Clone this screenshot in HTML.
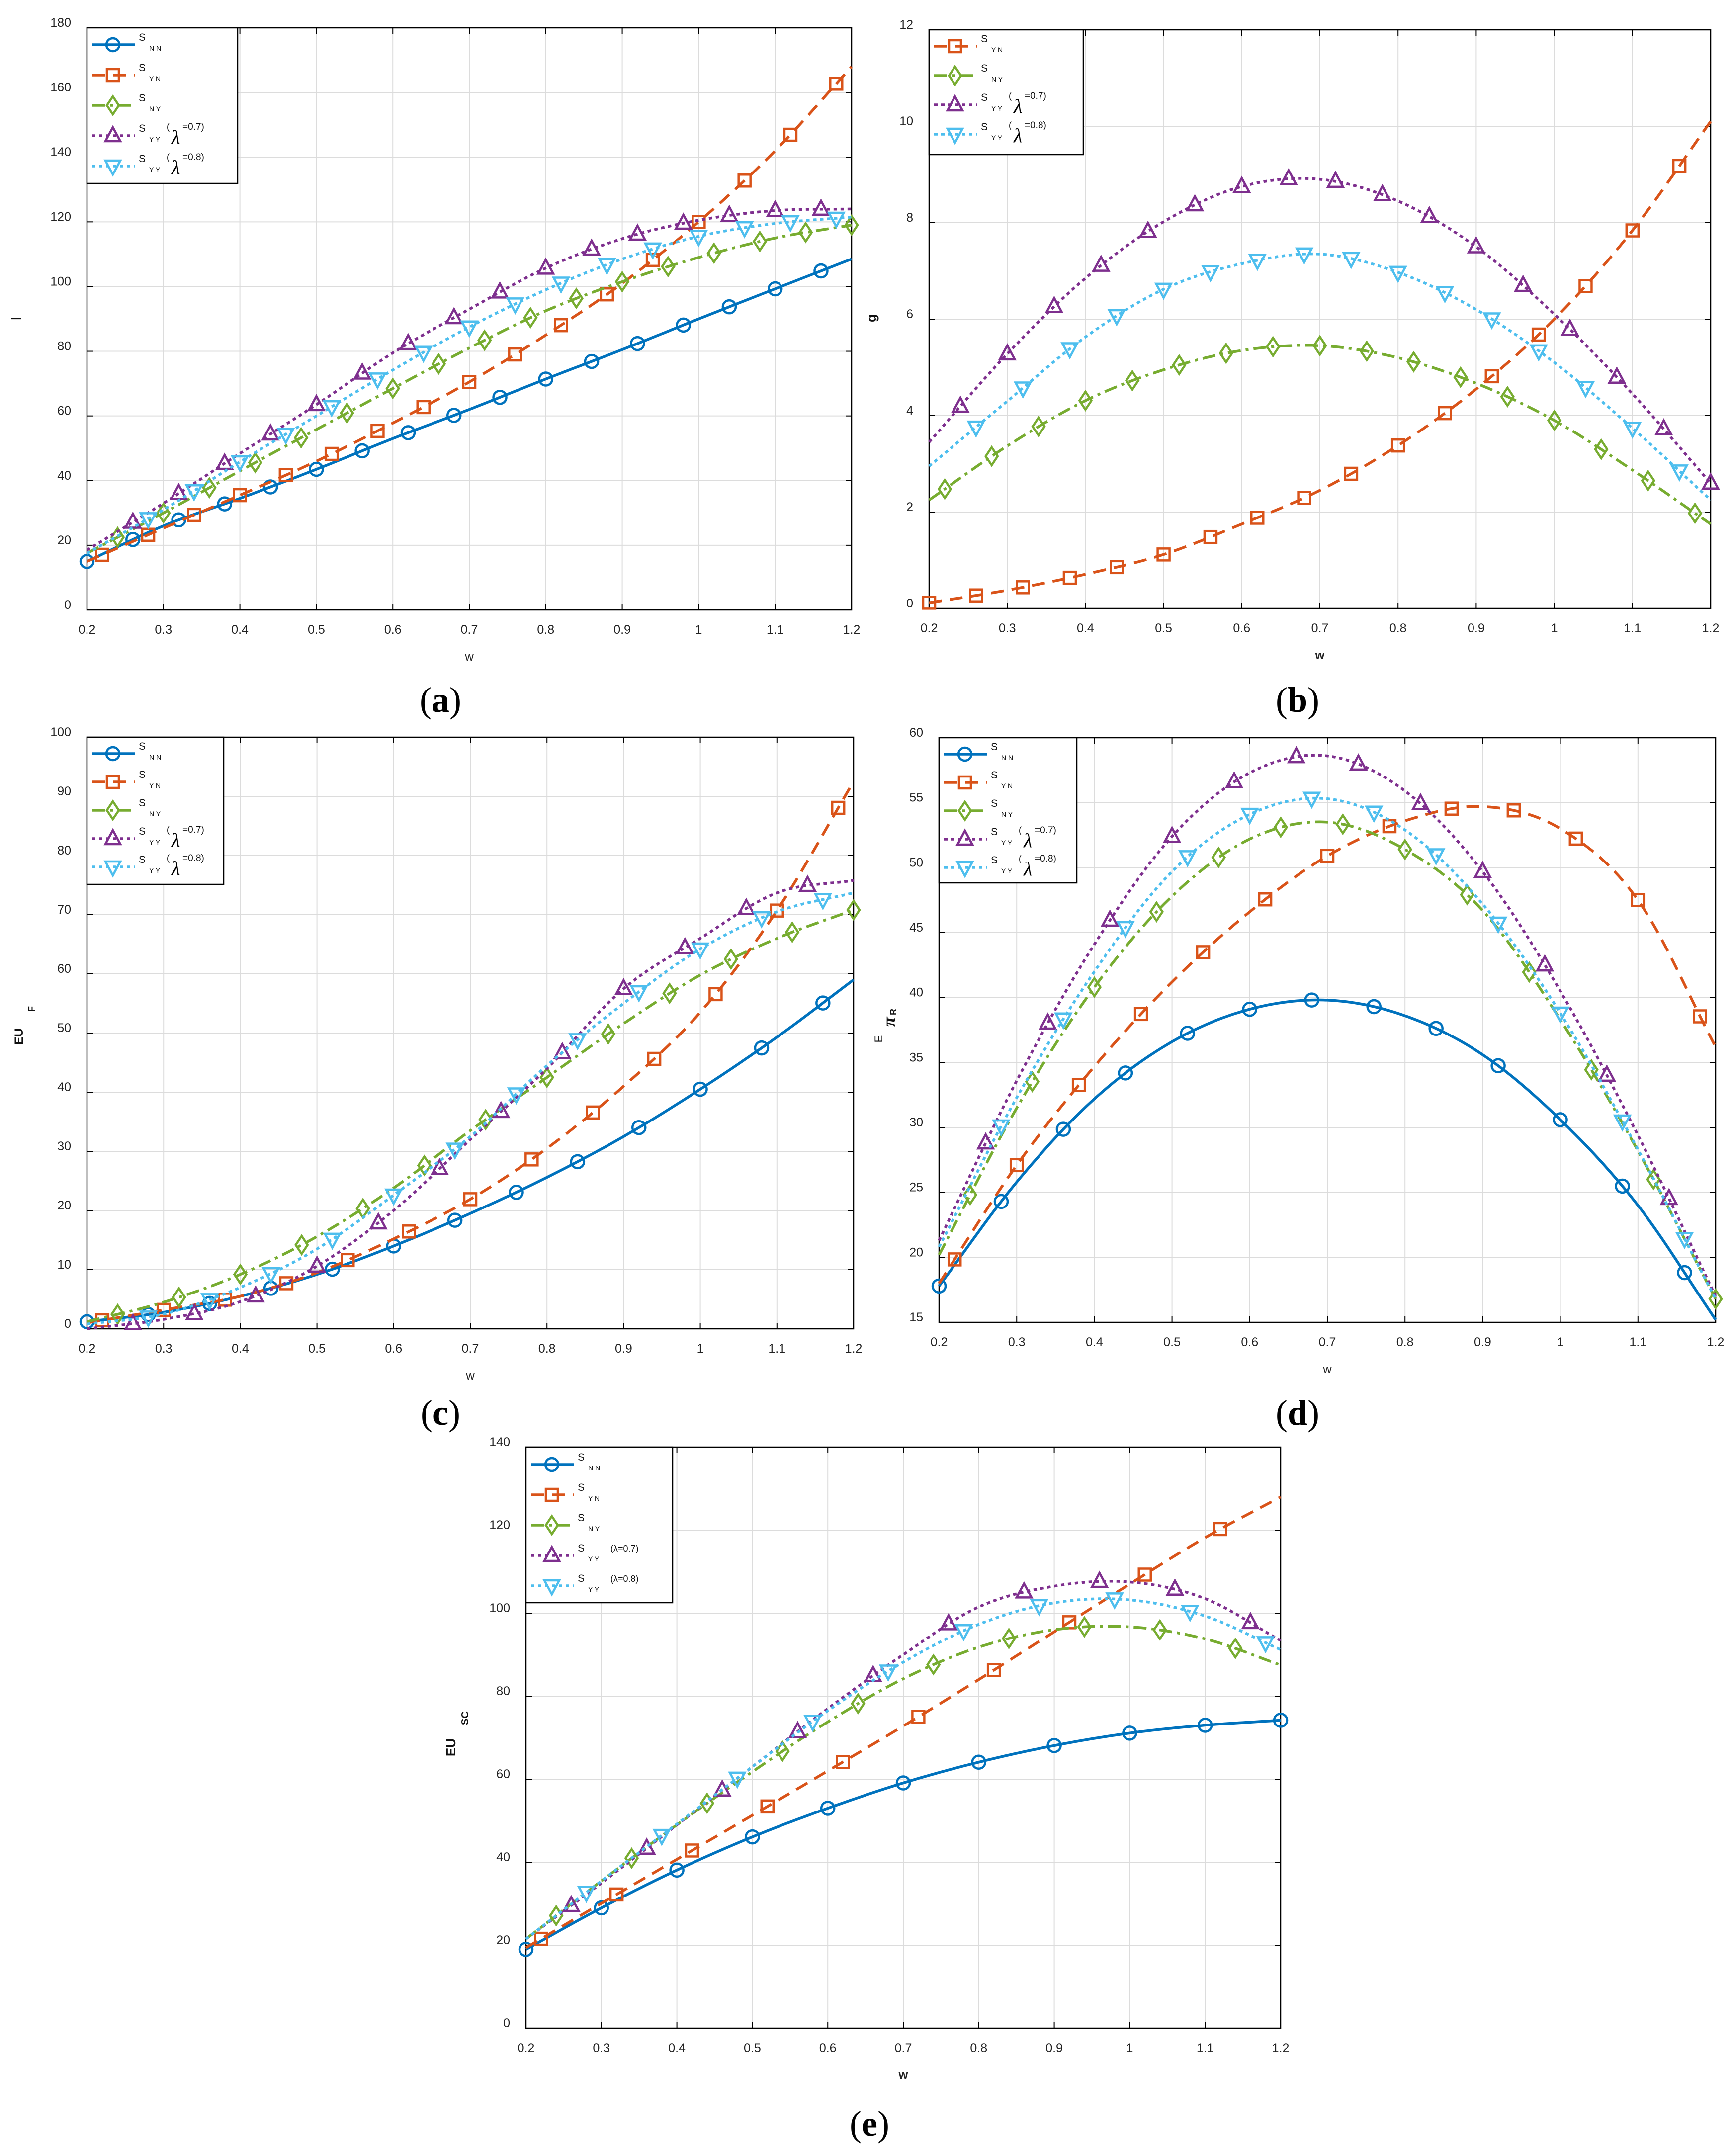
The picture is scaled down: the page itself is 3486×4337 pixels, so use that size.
<!DOCTYPE html>
<html><head><meta charset="utf-8"><style>
html,body{margin:0;padding:0;background:#fff;}
svg{display:block;font-family:"Liberation Sans",sans-serif;}
</style></head><body>
<svg id="fig" width="3486" height="4337" viewBox="0 0 3486 4337" xmlns="http://www.w3.org/2000/svg">
<rect width="3486" height="4337" fill="#fff"/>
</svg>
<script>
// ---- data (values at w = 0.2 ... 1.2 step 0.1) ----
const wValues = [0.2,0.3,0.4,0.5,0.6,0.7,0.8,0.9,1.0,1.1,1.2];
const xTicks = [0.2,0.3,0.4,0.5,0.6,0.7,0.8,0.9,1,1.1,1.2];
const xTickLabels = ["0.2","0.3","0.4","0.5","0.6","0.7","0.8","0.9","1","1.1","1.2"];
// panel a
const aNN = [15,26,34.5,43.5,53,62,71.4,80.5,90,99.3,108.5];
const aYN = [15,25.3,35.5,46,57.8,70.5,85,101,120,142,168];
const aNY = [17.5,30,43,55.8,68.5,81,92.5,101.5,109,115,119];
const aYY7 = [18.5,33,48.4,63.5,79.5,93,105.7,114.8,120.5,123.5,124];
const aYY8 = [17.5,31,45.8,60,74.2,87.5,99,108.5,115.5,119.5,121.5];
const aYTicks = [0,20,40,60,80,100,120,140,160,180];
// panel b
const bYN = [0.12,0.38,0.71,1.12,1.75,2.45,3.38,4.55,6.0,7.84,10.1];
const bNY = [2.25,3.37,4.31,4.95,5.35,5.45,5.2,4.67,3.9,2.87,1.75];
const bYY7 = [3.45,5.28,6.85,8.02,8.75,8.9,8.45,7.5,6.1,4.45,2.6];
const bYY8 = [2.95,4.3,5.63,6.62,7.15,7.35,6.97,6.2,5.1,3.74,2.25];
const bYTicks = [0,2,4,6,8,10,12];
// panel c
const cNN = [1.2,2.8,5.5,9.2,14,19.5,25.6,32.5,40.5,49.3,59];
const cYN = [1.0,3.2,5.5,9.5,15.2,21.9,30.5,41,53.5,70.7,92.5];
const cNY = [1.2,4.5,9.2,15.6,23.8,33.5,42.5,51.6,59.8,66,70.8];
const cYY7 = [0,1.6,4.6,10.6,20,32,44,57.5,66,73.7,75.8];
const cYY8 = [0.8,2.5,7,13.5,22.6,32.5,44.5,55,64.2,70.5,73.7];
const cYTicks = [0,10,20,30,40,50,60,70,80,90,100];
// panel d
const dNN = [17.8,25.8,32.2,36.6,39.1,39.8,38.6,35.6,30.6,24,15.2];
const dYN = [18,27.1,34.7,41.2,46.6,50.9,53.6,54.7,53,47.5,36.2];
const dNY = [20.2,31.5,40.8,47.8,52.2,53.5,51.4,46.7,38.3,28.2,16.8];
const dYY7 = [21.3,33.6,44.1,52.4,57.3,58.6,55.9,49.7,40.5,29.4,17.0];
const dYY8 = [20.8,32.3,42.0,49.7,54.1,55.3,52.9,47.2,38.8,28.3,16.8];
const dYTicks = [15,20,25,30,35,40,45,50,55,60];
// panel e
const eNN = [19,29,38.1,46.1,53,59.1,64.1,68.1,71.1,73,74.2];
const eYN = [19.4,30.1,40.7,51.3,62,72.8,84,95.5,107,118.2,128];
const eNY = [21.5,35.5,49,61.8,73.8,84.2,91.8,96,96.7,93.8,87.5];
const eYY7 = [21.5,35,49,63,77,90,101.5,106.5,107.5,103.5,93.4];
const eYY8 = [21.5,35.5,49.2,63,76.5,88.2,97.3,102.5,103.2,99.3,91.2];
const eYTicks = [0,20,40,60,80,100,120,140];

const NS="http://www.w3.org/2000/svg";
const fig=document.getElementById('fig');
function mk(tag,attrs,parent){const e=document.createElementNS(NS,tag);for(const k in attrs)e.setAttribute(k,attrs[k]);(parent||fig).appendChild(e);return e;}

const STY={
 NN:{c:"#0072BD",dash:"",m:"o"},
 YN:{c:"#D95319",dash:"26 16",m:"s"},
 NY:{c:"#77AC30",dash:"26 10 6 10",m:"d"},
 YY7:{c:"#7E2F8E",dash:"7 7",m:"^"},
 YY8:{c:"#4DBEEE",dash:"7 7",m:"v"}
};
const SUB={NN:"N N",YN:"Y N",NY:"N Y",YY7:"Y Y",YY8:"Y Y"};

function interp(vals,x){
 let f=(x-0.2)/0.1;let i=Math.floor(f);if(i<0)i=0;if(i>vals.length-2)i=vals.length-2;const t=f-i;
 const p1=vals[i],p2=vals[i+1];
 const p0=i>0?vals[i-1]:2*p1-p2;const p3=i+2<vals.length?vals[i+2]:2*p2-p1;
 return 0.5*((2*p1)+(-p0+p2)*t+(2*p0-5*p1+4*p2-p3)*t*t+(-p0+3*p1-3*p2+p3)*t*t*t);
}

function marker(g,type,x,y,c,name){
 let e;
 if(type==="o")e=mk('circle',{cx:x,cy:y,r:13},g);
 else if(type==="s")e=mk('rect',{x:x-12,y:y-12,width:24,height:24},g);
 else if(type==="d")e=mk('polygon',{points:`${x},${y-18} ${x+12},${y} ${x},${y+18} ${x-12},${y}`},g);
 else if(type==="^")e=mk('polygon',{points:`${x},${y-17} ${x+15},${y+11} ${x-15},${y+11}`},g);
 else e=mk('polygon',{points:`${x},${y+17} ${x+15},${y-11} ${x-15},${y-11}`},g);
 e.setAttribute('fill','none');e.setAttribute('stroke',c);e.setAttribute('stroke-width','4.5');
 
 
}

function panel(P){
 const g=mk('g',{});
 
 
 const X=v=>P.L+(v-0.2)/1.0*(P.R-P.L);
 const Y=v=>P.B-(v-P.ymin)/(P.ymax-P.ymin)*(P.B-P.T);
 // grid
 xTicks.forEach((t,i)=>{
  const gl=mk('line',{x1:X(t),x2:X(t),y1:P.T,y2:P.B,stroke:"#dcdcdc","stroke-width":2},g);
  
  
  mk('line',{x1:X(t),x2:X(t),y1:P.B,y2:P.B-12,stroke:"#000","stroke-width":2},g);
  mk('line',{x1:X(t),x2:X(t),y1:P.T,y2:P.T+12,stroke:"#000","stroke-width":2},g);
  const tl=mk('text',{x:X(t),y:P.B+48,"font-size":25,"text-anchor":"middle",fill:"#222"},g);
  tl.textContent=xTickLabels[i];
  
  
 });
 P.yt.forEach(t=>{
  const gl=mk('line',{x1:P.L,x2:P.R,y1:Y(t),y2:Y(t),stroke:"#dcdcdc","stroke-width":2},g);
  
  
  mk('line',{x1:P.L,x2:P.L+12,y1:Y(t),y2:Y(t),stroke:"#000","stroke-width":2},g);
  mk('line',{x1:P.R,x2:P.R-12,y1:Y(t),y2:Y(t),stroke:"#000","stroke-width":2},g);
  const tl=mk('text',{x:P.L-32,y:Y(t)-2,"font-size":25,"text-anchor":"end",fill:"#222"},g);
  tl.textContent=String(t);
  
  
 });
 const box=mk('rect',{x:P.L,y:P.T,width:P.R-P.L,height:P.B-P.T,fill:"none",stroke:"#000","stroke-width":2.5},g);
 
 
 // series
 P.series.forEach(s=>{
  const st=STY[s.key];
  let d="";
  for(let k=0;k<=200;k++){const x=0.2+k*0.005;d+=(k?"L":"M")+X(x).toFixed(1)+","+Y(interp(s.v,x)).toFixed(1);}
  const p=mk('path',{d:d,fill:"none",stroke:st.c,"stroke-width":5.5,"stroke-dasharray":st.dash,"stroke-linecap":st.dash==="7 7"?"butt":"butt"},g);
  
  
  for(let x=s.m0;x<=1.2001;x+=P.step){marker(g,st.m,X(x),Y(interp(s.v,x)),st.c,'marker-'+s.key.toLowerCase());}
 });
 // legend
 const lg=mk('g',{},g);
 
 
 mk('rect',{x:P.L,y:P.T,width:P.lw,height:P.lh,fill:"#fff",stroke:"#000","stroke-width":2.5},lg);
 P.series.forEach((s,i)=>{
  const st=STY[s.key];const ry=P.T+P.lr0+i*P.lsp;const lx=P.L;
  const en=mk('g',{},lg);
  
  
  mk('line',{x1:lx+10,x2:lx+97,y1:ry,y2:ry,stroke:st.c,"stroke-width":5.5,"stroke-dasharray":st.dash},en);
  marker(en,st.m,lx+52,ry,st.c,'legend-marker');
  const t=mk('text',{x:lx+104,y:ry-8,"font-size":21,fill:"#111"},en);t.textContent="S";
  const t2=mk('text',{x:lx+125,y:ry+12,"font-size":14,fill:"#111"},en);t2.textContent=SUB[s.key];
  const lam=s.key==="YY7"?"0.7":s.key==="YY8"?"0.8":null;
  if(lam){
   if(P.id==="e"){const t3=mk('text',{x:lx+170,y:ry-8,"font-size":18,fill:"#111"},en);t3.textContent="(λ="+lam+")";}
   else{
    const t3=mk('text',{x:lx+160,y:ry-12,"font-size":18,fill:"#111"},en);t3.textContent="(";
    const t4=mk('text',{x:lx+170,y:ry+16,"font-size":40,"font-family":"Liberation Serif,serif","font-style":"italic",fill:"#000"},en);t4.textContent="λ";
    const t5=mk('text',{x:lx+192,y:ry-12,"font-size":19,fill:"#111"},en);t5.textContent="="+lam+")";
   }
  }
 });
 // axis labels
 const xl=mk('text',{x:(P.L+P.R)/2,y:P.B+102,"font-size":24,"text-anchor":"middle","font-weight":P.xb?"bold":"normal",fill:"#222"},g);
 xl.textContent="w";
 
 
 const yl=mk('g',{transform:`translate(${P.ylx},${P.yly}) rotate(-90)`},g);
 
 
 P.ylab(yl);
 const cap=mk('text',{x:(P.L+P.R)/2+P.capdx,y:P.capy,"font-size":72,"text-anchor":"middle","font-family":"Liberation Serif,serif",fill:"#000"},g);
 cap.innerHTML='(<tspan font-weight="bold">'+P.id+'</tspan>)';
 
 
}
function txt(par,x,y,s,str,extra){const t=mk('text',Object.assign({x:x,y:y,"font-size":s,fill:"#111"},extra||{}),par);t.textContent=str;return t;}

panel({id:"a",L:175,R:1713,T:56,B:1227,ymin:0,ymax:180,yt:aYTicks,step:0.06,
 series:[{key:"NN",v:aNN,m0:0.2},{key:"YN",v:aYN,m0:0.22},{key:"NY",v:aNY,m0:0.24},{key:"YY7",v:aYY7,m0:0.26},{key:"YY8",v:aYY8,m0:0.28}],
 lw:303,lh:313,lr0:34,lsp:61,ylx:42,yly:641,xb:false,capy:1432,capdx:-58,
 ylab:g=>txt(g,0,0,26,"l",{"text-anchor":"middle"})});
panel({id:"b",L:1869,R:3441,T:60,B:1224,ymin:0,ymax:12,yt:bYTicks,step:0.06,
 series:[{key:"YN",v:bYN,m0:0.2},{key:"NY",v:bNY,m0:0.22},{key:"YY7",v:bYY7,m0:0.24},{key:"YY8",v:bYY8,m0:0.26}],
 lw:310,lh:251,lr0:33,lsp:59,ylx:1762,yly:640,xb:true,capy:1432,capdx:-45,
 ylab:g=>txt(g,0,0,26,"g",{"text-anchor":"middle","font-weight":"bold"})});
panel({id:"c",L:175,R:1717,T:1483,B:2673,ymin:0,ymax:100,yt:cYTicks,step:0.08,
 series:[{key:"NN",v:cNN,m0:0.2},{key:"YN",v:cYN,m0:0.22},{key:"NY",v:cNY,m0:0.24},{key:"YY7",v:cYY7,m0:0.26},{key:"YY8",v:cYY8,m0:0.28}],
 lw:275,lh:296,lr0:33,lsp:57,ylx:46,yly:2085,xb:false,capy:2866,capdx:-60,
 ylab:g=>{txt(g,0,0,24,"EU",{"text-anchor":"middle","font-weight":"bold"});txt(g,50,24,18,"F",{"font-weight":"bold"});}});
panel({id:"d",L:1889,R:3451,T:1484,B:2660,ymin:15,ymax:60,yt:dYTicks,step:0.08,
 series:[{key:"NN",v:dNN,m0:0.2},{key:"YN",v:dYN,m0:0.22},{key:"NY",v:dNY,m0:0.24},{key:"YY7",v:dYY7,m0:0.26},{key:"YY8",v:dYY8,m0:0.28}],
 lw:277,lh:292,lr0:33,lsp:57,ylx:1775,yly:2090,xb:false,capy:2866,capdx:-60,
 ylab:g=>{txt(g,0,0,22,"E",{"text-anchor":"middle"});txt(g,25,25,36,"π",{"font-weight":"bold","font-style":"italic","font-family":"Liberation Serif,serif"});txt(g,48,28,18,"R",{"font-weight":"bold"});}});
panel({id:"e",L:1058,R:2576,T:2911,B:4080,ymin:0,ymax:140,yt:eYTicks,step:0.1,
 series:[{key:"NN",v:eNN,m0:0.2},{key:"YN",v:eYN,m0:0.22},{key:"NY",v:eNY,m0:0.24},{key:"YY7",v:eYY7,m0:0.26},{key:"YY8",v:eYY8,m0:0.28}],
 lw:295,lh:313,lr0:35,lsp:61,ylx:916,yly:3515,xb:true,capy:4296,capdx:-68,
 ylab:g=>{txt(g,0,0,26,"EU",{"text-anchor":"middle","font-weight":"bold"});txt(g,45,26,20,"SC",{"font-weight":"bold"});}});
</script>
</body></html>
